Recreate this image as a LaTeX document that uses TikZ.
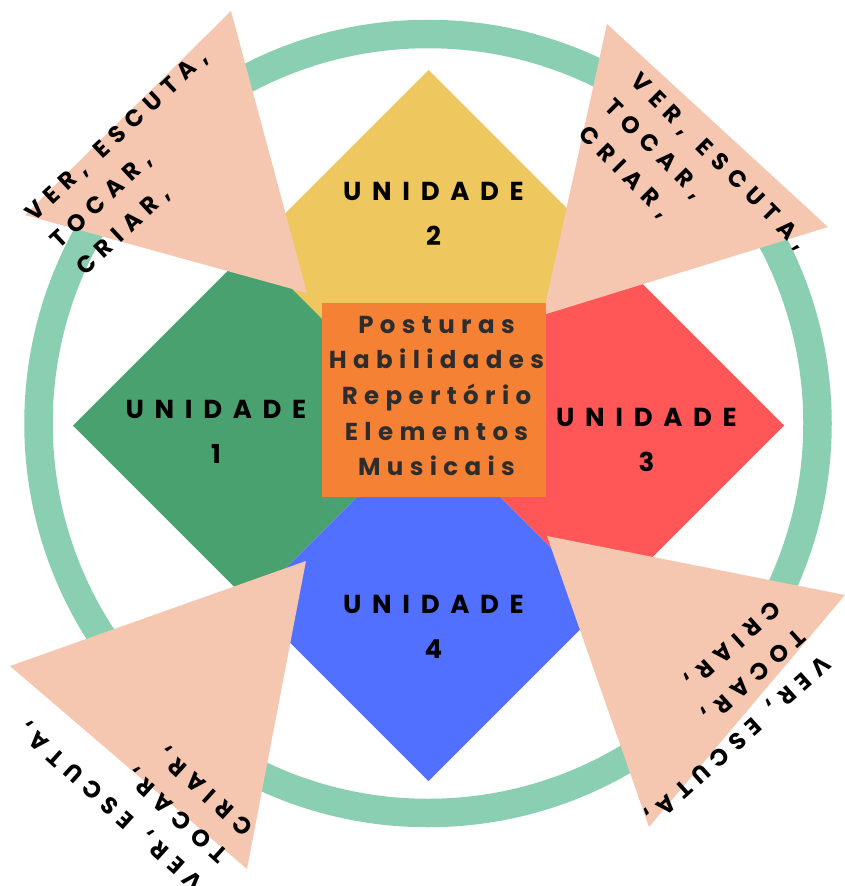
\documentclass[tikz,border=0pt]{standalone}
\usepackage{fontspec}
\setmainfont{Poppins}
\newfontfamily\unitfont{Poppins}[LetterSpace=41]
\newfontfamily\corefont{Poppins}[LetterSpace=26]
\newfontfamily\sensefont{Poppins}[LetterSpace=33]
\usetikzlibrary{shapes.geometric}
\definecolor{ringgreen}{RGB}{138,207,177}
\definecolor{unityellow}{RGB}{238,199,95}
\definecolor{unitgreen}{RGB}{72,161,110}
\definecolor{unitred}{RGB}{255,87,87}
\definecolor{unitblue}{RGB}{81,112,255}
\definecolor{coreorange}{RGB}{245,129,53}
\definecolor{sensepeach}{RGB}{245,198,176}
\definecolor{coregray}{RGB}{45,45,45}
\newcommand{\sensetext}{VER,\hspace{0.2em} ESCUTA,\\TOCAR,\\CRIAR,}

\begin{document}
\begin{tikzpicture}[x=1pt, y=-1pt,
  unit/.style={diamond, fill=#1, inner sep=0pt, outer sep=0pt,
               minimum width=355.5pt, minimum height=355.5pt},
  unitlabel/.style={font=\unitfont\bfseries\fontsize{26}{45}\selectfont,
                    align=center, text=black, inner sep=0pt},
  corelabel/.style={font=\corefont\bfseries\fontsize{24.5}{35.7}\selectfont,
                    align=center, text=coregray, inner sep=0pt},
  senselabel/.style={font=\sensefont\bfseries\fontsize{23.5}{37}\selectfont,
                     align=left, anchor=west, inner sep=0pt, rotate=#1},
  sense/.style={fill=sensepeach},
]
  \useasboundingbox (0,0) rectangle (845,886);

  % Outer ring
  \draw[ringgreen, line width=28.5pt] (428,423.5) circle[radius=389.5pt];

  % Four units
  \node[unit=unityellow] (u2) at (428.5,247.75) {};
  \node[unit=unitgreen]  (u1) at (250.75,425.5) {};
  \node[unit=unitred]    (u3) at (606.25,425.5) {};
  \node[unit=unitblue]   (u4) at (428.5,603.25) {};

  % Corner triangles
  \fill[sense] (231,11) -- (25,215) -- (307,293) -- cycle;
  \fill[sense] (607,24) -- (828,227) -- (543,315) -- cycle;
  \fill[sense] (547,536) -- (845,595) -- (649,827) -- cycle;
  \fill[sense] (306,561) -- (10,666) -- (247,869) -- cycle;

  % Centre box
  \node[fill=coreorange, minimum width=224pt, minimum height=194pt,
        inner sep=0pt] (corebox) at (434,400) {};
  \node[corelabel] (core) at (436.5,396)
    {Posturas\\Habilidades\\Repertório\\Elementos\\Musicais};

  \node[unitlabel] (l1) at (216,432) {UNIDADE\\1};
  \node[unitlabel] (l2) at (433.5,214) {UNIDADE\\2};
  \node[unitlabel] (l3) at (646.5,439.5) {UNIDADE\\3};
  \node[unitlabel] (l4) at (433.5,626.5) {UNIDADE\\4};

  \node[senselabel=43]   (s1) at (55,245)  {\sensetext};
  \node[senselabel=-45]  (s2) at (608,104) {\sensetext};
  \node[senselabel=-138] (s3) at (801,632) {\sensetext};
  \node[senselabel=138]  (s4) at (225,858) {\sensetext};
\end{tikzpicture}
\end{document}
